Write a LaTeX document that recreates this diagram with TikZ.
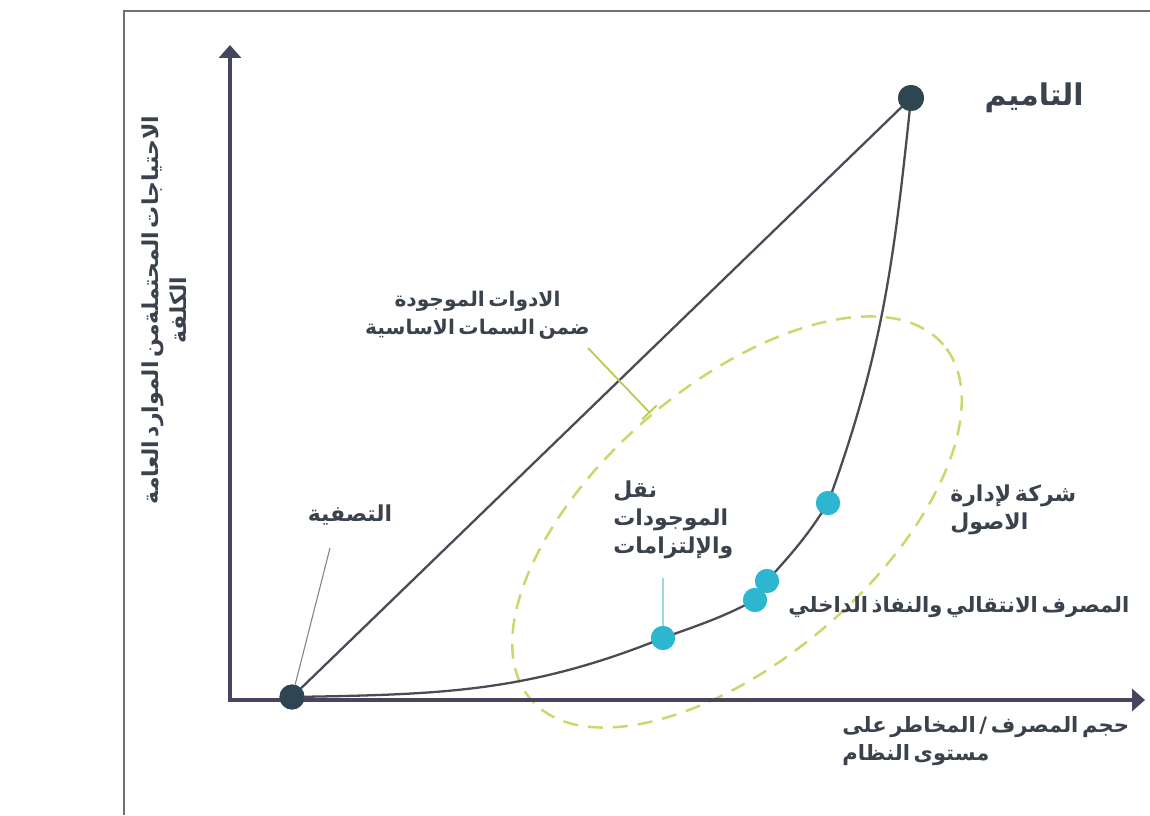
\documentclass[tikz,border=0pt]{standalone}
\usepackage{fontspec}
\usepackage{xcolor}
\usetikzlibrary{arrows.meta, positioning}
\TeXXeTstate=1
\newfontfamily\arabicfont[Script=Arabic, WordSpace=0.5]{DejaVu Sans}
\definecolor{axisline}{HTML}{45455F}
\definecolor{curveline}{HTML}{4B4B55}
\definecolor{darkdot}{HTML}{2E4651}
\definecolor{cyandot}{HTML}{2DB6CF}
\definecolor{ringgreen}{HTML}{C9D86C}
\definecolor{tickgreen}{HTML}{B7CC4F}
\definecolor{labeltext}{HTML}{3A434D}
\definecolor{framegray}{HTML}{707070}
\definecolor{pointercyan}{HTML}{9ED9E3}
\tikzset{
    axis/.style={
        draw=axisline, line width=2.2pt,
        {Triangle[length=2.6mm, width=4.4mm]}-{Triangle[length=2.6mm, width=4.4mm]}
    },
    curve/.style={draw=curveline, line width=1.3pt},
    enddot/.style={circle, fill=darkdot, minimum size=5mm, inner sep=0pt},
    stagedot/.style={circle, fill=cyandot, minimum size=4.8mm, inner sep=0pt},
    arlabel/.style={
        font=\arabicfont\bfseries\fontsize{12.5}{16}\selectfont,
        text=labeltext, inner sep=0pt
    },
    smalllabel/.style={font=\arabicfont\bfseries\fontsize{12}{16}\selectfont},
    biglabel/.style={font=\arabicfont\bfseries\fontsize{17}{20}\selectfont},
    pointer/.style={draw=curveline!70, line width=0.6pt},
    ring/.style={draw=ringgreen, line width=1.4pt, dash pattern=on 3mm off 2mm}
}

\begin{document}
\begin{tikzpicture}
      \useasboundingbox[fill=white] (-4.6,-2.3) rectangle (18.4,14.0);
      \draw[framegray, line width=0.6pt] (-2.12,-2.3) |- (18.4,13.78);

      % stress region
      \draw[ring, rotate around={40.7:(10.14,3.56)}] (10.14,3.56) ellipse (5.44cm and 2.74cm);

      % axes
      \coordinate (O) at (0,0);
      \coordinate (ytop) at (0,13.1);
      \coordinate (xend) at (18.3,0);
      \draw[axis] (ytop) -- (O) -- (xend);

      % resolution options
      \node[enddot] (liq) at (1.24,0.06) {};
      \node[enddot, minimum size=5.2mm] (nat) at (13.62,12.04) {};
      \node[stagedot] (trf) at (8.66,1.24) {};
      \node[stagedot] (bridge) at (10.5,2.0) {};
      \node[stagedot] (bailin) at (10.74,2.38) {};
      \node[stagedot] (amc) at (11.96,3.94) {};

      \draw[curve] (liq.center) -- (nat.center);
      \draw[curve] (liq.center) to[out=1, in=202] (trf.center)
          to[out=20, in=208] (bridge.center)
          to[out=42, in=236] (bailin.center)
          to[out=48, in=238] (amc.center)
          to[out=70, in=264] (nat.center);
      \node[stagedot] at (trf) {};
      \node[stagedot] at (bridge) {};
      \node[stagedot] at (bailin) {};
      \node[stagedot] at (amc) {};
      \node[enddot] at (liq) {};
      \node[enddot, minimum size=5.2mm] at (nat) {};

      % labels
      \node[arlabel, rotate=90, align=center] (ylbl) at (-1.32,7.8)
          {\beginR الاحتياجات المحتملةمن الموارد العامة\endR\\\beginR الكلفة\endR};
      \node[arlabel, biglabel, right=1.2cm of nat] (natlbl) {\beginR التاميم\endR};
      \node[arlabel, font=\arabicfont\bfseries\fontsize{11.5}{16}\selectfont, align=center] (toolslbl) at (4.95,7.7)
          {\beginR الادوات الموجودة\endR\\\beginR ضمن السمات الاساسية\endR};
      \node[arlabel] (liqlbl) at (2.4,3.7) {\beginR التصفية\endR};
      \node[arlabel, align=left, anchor=west] (trflbl) at (7.66,3.6)
          {\beginR نقل\endR\\\beginR الموجودات\endR\\\beginR والإلتزامات\endR};
      \node[arlabel, align=left, anchor=west] (amclbl) at (14.4,3.8)
          {\beginR شركة لإدارة\endR\\\beginR الاصول\endR};
      \node[arlabel, smalllabel, anchor=west] (bridgelbl) at (11.16,1.86)
          {\beginR المصرف الانتقالي والنفاذ الداخلي\endR};
      \node[arlabel, smalllabel, align=left, anchor=west] (xlbl) at (12.24,-0.82)
          {\beginR حجم المصرف / المخاطر على\endR\\\beginR مستوى النظام\endR};

      % pointers
      \coordinate (liqtip) at (2.0,3.04);
      \coordinate (trftip) at (8.66,2.44);
      \coordinate (toolstip) at (7.16,7.04);
      \coordinate (toolsend) at (8.4,5.74);
      \draw[pointer] (liqtip) -- (liq);
      \draw[draw=pointercyan, line width=0.9pt] (trftip) -- (trf);
      \draw[draw=tickgreen, line width=1pt, -{Bar[width=4mm]}] (toolstip) -- (toolsend);
    \end{tikzpicture}
\end{document}
